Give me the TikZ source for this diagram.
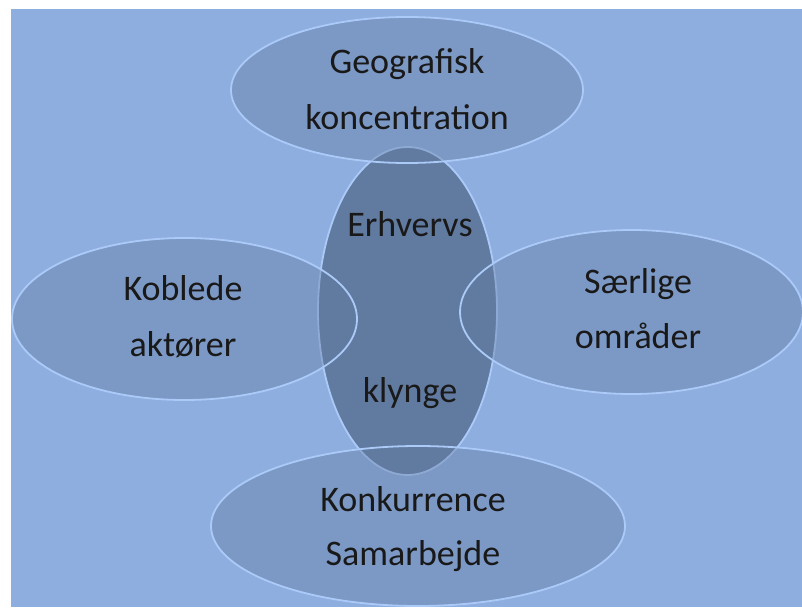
\documentclass[tikz,border=0pt]{standalone}
\usepackage{fontspec}
\setmainfont{Carlito}
\usetikzlibrary{shapes.geometric}
\definecolor{bgblue}{RGB}{142,174,224}
\definecolor{ellfill}{RGB}{97,122,160}
\definecolor{ellline}{RGB}{172,202,248}
\tikzset{
  bubble/.style={ellipse, draw=ellline, line width=1.8pt, fill=ellfill, fill opacity=0.4, draw opacity=1, inner sep=0pt},
  corebubble/.style={ellipse, draw=ellline, line width=1.8pt, fill=ellfill, inner sep=0pt},
  lbl/.style={anchor=base, font=\fontsize{36}{43}\selectfont, text=black!90, inner sep=0pt}
}
\begin{document}
\begin{tikzpicture}[x=1pt,y=-1pt]
\useasboundingbox (0,0) rectangle (802,607);
\fill[white] (0,0) rectangle (802,607);
\fill[bgblue] (11,9) rectangle (802,607);
\clip (11,9) rectangle (802,607);
\node[corebubble, minimum width=179pt, minimum height=328pt] (core) at (407.5,311) {};
\node[bubble, minimum width=352pt, minimum height=146pt] (top) at (407,90) {};
\node[bubble, minimum width=345pt, minimum height=162pt] (left) at (184.5,319) {};
\node[bubble, minimum width=343pt, minimum height=164pt] (right) at (631.5,312) {};
\node[bubble, minimum width=414pt, minimum height=160pt] (bottom) at (418,526) {};
\node[lbl] (t1) at (407,74) {Geografisk};
\node[lbl] (t2) at (407,129) {koncentration};
\node[lbl] (c1) at (410,236) {Erhvervs};
\node[lbl] (c2) at (410,402) {klynge};
\node[lbl] (l1) at (183,300) {Koblede};
\node[lbl] (l2) at (183,356) {aktører};
\node[lbl] (r1) at (638,293) {Særlige};
\node[lbl] (r2) at (638,348) {områder};
\node[lbl] (b1) at (413,511) {Konkurrence};
\node[lbl] (b2) at (413,565) {Samarbejde};
\end{tikzpicture}
\end{document}
